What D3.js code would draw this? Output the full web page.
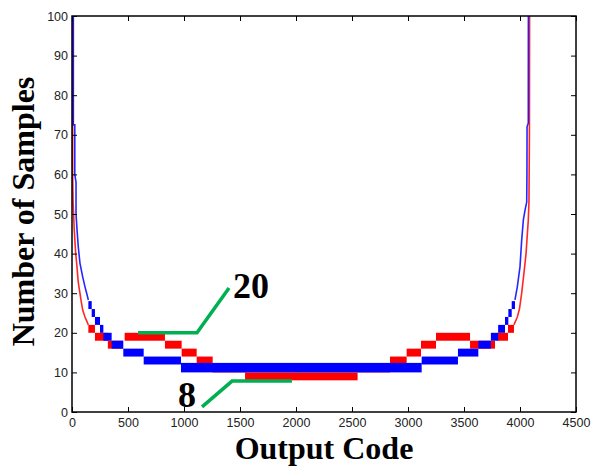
<!DOCTYPE html>
<html><head><meta charset="utf-8">
<script src="https://cdn.jsdelivr.net/npm/d3@7/dist/d3.min.js"></script>
<style>body{margin:0;background:#fff}</style>
</head><body>
<svg id="chart" width="591" height="466"></svg>
<script>
// ---- data ----
const xTicks = [0,500,1000,1500,2000,2500,3000,3500,4000,4500];
const yTicks = [0,10,20,30,40,50,60,70,80,90,100];

// red series: thick bands (start code, end code, low, high)
const redStart = [146,205,320,470,830,979,1113,1256,1545,2550,2839,2988,3116,3250,3554,3797,3893];
const redEnd   = [205,320,455,830,979,1113,1256,1545,2550,2839,2988,3116,3250,3554,3777,3893,3946];
const redLow   = [20,18,16,18,16,14,12,10,8,10,12,14,16,18,16,18,20];
const redHigh  = [22,20,18,20,18,16,14,12,10,12,14,16,18,20,18,20,22];
// red walls
const redLeftX  = [6,6,10,20,33,42,55,62,71,80,95,116,146];
const redLeftY  = [110,60,53,46,40,37.5,33,31.6,30,28.3,25.8,24,22];
const redRightX = [3946,3976,3995,4015,4035,4054,4074,4080,4084,4086];
const redRightY = [22,24,26,30,35,40,48.5,53,70,110];

// blue series
const blueStart = [146,176,205,250,280,354,458,640,973,3122,3446,3628,3740,3805,3866,3896,3926];
const blueEnd   = [176,205,250,280,354,458,640,973,3122,3446,3628,3740,3805,3866,3896,3926,3955];
const blueLow   = [26,24,22,20,18,16,14,12,10,12,14,16,18,20,22,24,26];
const blueHigh  = [28,26,24,22,20,18,16,14,12.4,14,16,18,20,22,24,26,28];
const blueLeftX  = [12,12,25,25,36,36,45,56,71,95,116,131,146];
const blueLeftY  = [110,72.5,72.5,60,58,50,46,41.7,37.6,34.2,31.6,30,28.3];
const blueRightX = [3955,3976,4000,4015,4030,4045,4060,4062,4063,4074,4075];
const blueRightY = [28.3,31.6,36.7,43.4,48.5,51,53,60,72,73,110];

// annotations (data coordinates)
const annoUpperX = [590,1116,1402];
const annoUpperY = [20,20,31.3];
const annoLowerX = [1161,1429,1964];
const annoLowerY = [1.3,7.8,7.8];
const labelUpper = {text:"20", x:1437, y:28.8};
const labelLower = {text:"8", x:946, y:1.3};

// ---- drawing ----
const svg = d3.select("#chart");
const L = 72, R = 576, T = 16, B = 412;
const x = d3.scaleLinear().domain([0,4500]).range([L,R]);
const y = d3.scaleLinear().domain([0,100]).range([B,T]);

svg.append("defs").append("clipPath").attr("id","clip")
  .append("rect").attr("x",L).attr("y",T).attr("width",R-L).attr("height",B-T);

const plot = svg.append("g").attr("clip-path","url(#clip)");

function drawSeries(color, s, e, lo, hi, lx, ly, rx, ry){
  const g = plot.append("g");
  g.selectAll("rect").data(s.map((d,i)=>i)).join("rect")
    .attr("x", i=>x(s[i]))
    .attr("width", i=>Math.max(0.8, x(e[i])-x(s[i])))
    .attr("y", i=>y(hi[i]))
    .attr("height", i=>y(lo[i])-y(hi[i]))
    .attr("fill", color);
  const line = d3.line().x(d=>x(d[0])).y(d=>y(d[1]));
  [[lx,ly],[rx,ry]].forEach(([xs,ys])=>{
    g.append("path").attr("d", line(xs.map((v,i)=>[v,ys[i]])))
      .attr("fill","none").attr("stroke",color).attr("stroke-width",1.6)
      .attr("stroke-opacity",0.85);
  });
}
drawSeries("#ff0000", redStart, redEnd, redLow, redHigh, redLeftX, redLeftY, redRightX, redRightY);
drawSeries("#0000ff", blueStart, blueEnd, blueLow, blueHigh, blueLeftX, blueLeftY, blueRightX, blueRightY);

// axes
const tickFont = "Arial, 'Liberation Sans', sans-serif";
svg.append("g").attr("transform",`translate(0,${B})`)
  .call(d3.axisBottom(x).tickValues(xTicks).tickSize(-5).tickPadding(6).tickFormat(d3.format("d")));
svg.append("g").attr("transform",`translate(${L},0)`)
  .call(d3.axisLeft(y).tickValues(yTicks).tickSize(-5).tickPadding(4));
svg.append("g").attr("transform",`translate(0,${T})`)
  .call(d3.axisTop(x).tickValues(xTicks).tickSize(-5).tickFormat(""));
svg.append("g").attr("transform",`translate(${R},0)`)
  .call(d3.axisRight(y).tickValues(yTicks).tickSize(-5).tickFormat(""));
svg.selectAll(".domain").remove();
svg.selectAll(".tick line").attr("stroke","#000");
svg.selectAll(".tick text").attr("font-family",tickFont).attr("font-size",12.5).attr("fill","#222");

svg.append("rect").attr("x",L).attr("y",T).attr("width",R-L).attr("height",B-T)
  .attr("fill","none").attr("stroke","#000").attr("stroke-width",1.5);

// annotations
const green = "#00b050";
const aline = d3.line().x(d=>x(d[0])).y(d=>y(d[1]));
svg.append("path").attr("d", aline(annoUpperX.map((v,i)=>[v,annoUpperY[i]])))
  .attr("fill","none").attr("stroke",green).attr("stroke-width",3.5);
svg.append("path").attr("d", aline(annoLowerX.map((v,i)=>[v,annoLowerY[i]])))
  .attr("fill","none").attr("stroke",green).attr("stroke-width",3.5);
const serif = "'Times New Roman', 'Liberation Serif', serif";
[labelUpper,labelLower].forEach(l=>{
  svg.append("text").attr("x",x(l.x)).attr("y",y(l.y)).text(l.text)
    .attr("font-family",serif).attr("font-weight","bold").attr("font-size",36).attr("fill","#000");
});

// axis titles
svg.append("text").attr("x",(L+R)/2).attr("y",459).attr("text-anchor","middle")
  .attr("font-family",serif).attr("font-weight","bold").attr("font-size",32).text("Output Code");
svg.append("text").attr("transform",`translate(34,${(78+345)/2}) rotate(-90)`).attr("text-anchor","middle")
  .attr("font-family",serif).attr("font-weight","bold").attr("font-size",32).text("Number of Samples");
</script>
</body></html>
